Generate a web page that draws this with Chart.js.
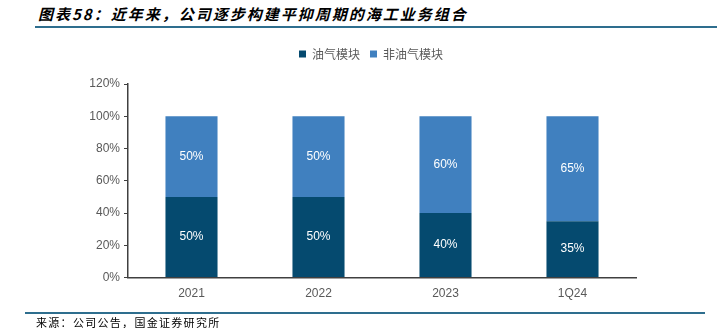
<!DOCTYPE html>
<html>
<head>
<meta charset="utf-8">
<script src="https://cdn.jsdelivr.net/npm/chart.js@4.4.1/dist/chart.umd.min.js"></script>
<style>
	body { margin: 0; background: #fff; }
	#wrap { position: relative; width: 717px; height: 328px; overflow: hidden; }
	#title {
		position: absolute; left: 38px; top: 3px; letter-spacing: 2px;
		font-family: "Noto Sans CJK SC", sans-serif; font-size: 15px;
		font-weight: bold; font-style: italic; color: #000;
	}
	#topLine { position: absolute; left: 35px; right: 0; top: 26px; height: 2px; background: #2E6E8E; }
	#bottomLine { position: absolute; left: 25px; width: 680px; top: 312px; height: 2px; background: #2E6E8E; }
	#source {
		position: absolute; left: 36px; top: 314px; letter-spacing: 1.3px;
		font-family: "Noto Sans CJK SC", sans-serif; font-size: 11px; color: #000;
	}
	canvas { position: absolute; left: 0; top: 0; }
</style>
</head>
<body>
<div id="wrap">
	<div id="title">图表58：近年来，公司逐步构建平抑周期的海工业务组合</div>
	<div id="topLine"></div>
	<canvas id="chart" width="717" height="328"></canvas>
	<div id="bottomLine"></div>
	<div id="source">来源：公司公告，国金证券研究所</div>
</div>
<script>
	const categories = ['2021', '2022', '2023', '1Q24'];
	const oilGas = [50, 50, 40, 35];
	const nonOilGas = [50, 50, 60, 65];
	const yTicks = [0, 20, 40, 60, 80, 100, 120];

	// value labels in the middle of each bar segment
	const barLabels = {
		id: 'barLabels',
		afterDatasetsDraw(chart) {
			const ctx = chart.ctx;
			ctx.save();
			ctx.fillStyle = '#ffffff';
			ctx.font = '12px "Liberation Sans", Arial, sans-serif';
			ctx.textAlign = 'center';
			ctx.textBaseline = 'middle';
			chart.data.datasets.forEach((ds, i) => {
				chart.getDatasetMeta(i).data.forEach((bar, j) => {
					const y = (bar.y + bar.base) / 2;
					ctx.fillText(ds.data[j] + '%', bar.x, y);
				});
			});
			ctx.restore();
		}
	};

	// extra space under the legend, and shift it to the right
	const legendPlace = {
		id: 'legendPlace',
		beforeInit(chart) {
			const fit = chart.legend.fit;
			chart.legend.fit = function () {
				fit.bind(chart.legend)();
				this.height += 14;
			};
		},
		afterLayout(chart) {
			chart.legend.left += 53;
			chart.legend.right += 53;
		}
	};

	new Chart(document.getElementById('chart').getContext('2d'), {
		type: 'bar',
		data: {
			labels: categories,
			datasets: [
				{ label: '油气模块', data: oilGas, backgroundColor: '#054A6F', categoryPercentage: 1, barPercentage: 0.41 },
				{ label: '非油气模块', data: nonOilGas, backgroundColor: '#4080BF', categoryPercentage: 1, barPercentage: 0.41 }
			]
		},
		options: {
			responsive: false,
			animation: false,
			layout: { padding: { left: 0, right: 81, top: 38, bottom: 26 } },
			plugins: {
				legend: {
					position: 'top',
					labels: {
						boxWidth: 7, boxHeight: 7, padding: 10,
						color: '#595959',
						font: { family: '"Noto Sans CJK SC", sans-serif', size: 12 }
					}
				},
				tooltip: { enabled: false }
			},
			scales: {
				x: {
					stacked: true,
					grid: { display: false },
					border: { color: '#404040', width: 1.5 },
					ticks: { color: '#595959', font: { family: '"Liberation Sans", Arial, sans-serif', size: 12 }, padding: 1 }
				},
				y: {
					stacked: true,
					min: 0, max: 120,
					afterBuildTicks(scale) { scale.ticks = yTicks.map(v => ({ value: v })); },
					afterFit(scale) { scale.width = 128; },
					grid: { drawOnChartArea: false, drawTicks: true, tickLength: 4, color: '#404040' },
					border: { color: '#404040', width: 1.5 },
					ticks: {
						color: '#595959', padding: 4,
						font: { family: '"Liberation Sans", Arial, sans-serif', size: 12 },
						callback: v => v + '%'
					}
				}
			}
		},
		plugins: [barLabels, legendPlace]
	});
</script>
</body>
</html>
